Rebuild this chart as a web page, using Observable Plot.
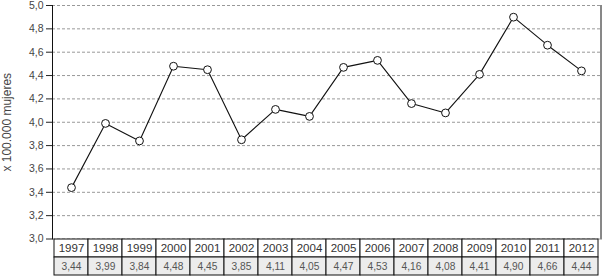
<!DOCTYPE html>
<html><head><meta charset="utf-8">
<script src="https://cdn.jsdelivr.net/npm/d3@7"></script>
<script src="https://cdn.jsdelivr.net/npm/@observablehq/plot@0.6"></script>
<style>
body{margin:0;background:#fff;}
#wrap{position:relative;width:602px;height:276px;overflow:hidden;}
#wrap svg{position:absolute;left:0;background:transparent;overflow:visible;}
</style></head><body><div id="wrap"></div>
<script>
const years = [1997,1998,1999,2000,2001,2002,2003,2004,2005,2006,2007,2008,2009,2010,2011,2012];
const rates = [3.44,3.99,3.84,4.48,4.45,3.85,4.11,4.05,4.47,4.53,4.16,4.08,4.41,4.90,4.66,4.44];
const yTicks = [3.0,3.2,3.4,3.6,3.8,4.0,4.2,4.4,4.6,4.8,5.0];
const yLabel = "x 100.000 mujeres";
const rowKeys = ["year","value"];

const data = years.map((y,i)=>({year:String(y), rate:rates[i]}));
const fmt2 = d => d.toFixed(2).replace(".", ",");
const fmt1 = d => d.toFixed(1).replace(".", ",");
const sans = "'Liberation Sans',Arial,sans-serif";

const main = Plot.plot({
  width:602, height:276,
  marginLeft:52, marginRight:1.5, marginTop:5, marginBottom:37.5,
  style:{background:"transparent", fontFamily:sans, color:"#333"},
  x:{type:"band", domain:data.map(d=>d.year), padding:0, axis:null},
  y:{domain:[3,5], axis:null},
  marks:[
    Plot.gridY(yTicks, {stroke:"#999", strokeOpacity:1, strokeDasharray:"3,2"}),
    Plot.axisY(yTicks, {tickFormat:fmt1, tickSize:6, tickPadding:3, fontSize:10.5, label:null, stroke:"#222", fill:"#444"}),
    Plot.frame({anchor:"left", stroke:"#111"}),
    Plot.frame({anchor:"right", stroke:"#111"}),
    Plot.text([yLabel], {frameAnchor:"left", rotate:-90, dx:-45, textAnchor:"middle", lineAnchor:"middle", fontSize:12, fill:"#444"}),
    Plot.line(data, {x:"year", y:"rate", stroke:"#111", strokeWidth:1.1}),
    Plot.dot(data, {x:"year", y:"rate", r:3.9, fill:"white", stroke:"#111", strokeWidth:1})
  ]
});

const table = Plot.plot({
  width:602, height:38,
  marginLeft:52, marginRight:1.5, marginTop:0.5, marginBottom:1,
  style:{background:"transparent", fontFamily:sans},
  x:{type:"band", domain:data.map(d=>d.year), padding:0, axis:null},
  y:{type:"band", domain:rowKeys, padding:0, axis:null},
  marks:[
    Plot.cell(data, {x:"year", y:()=>rowKeys[0], fill:"white", stroke:"#111"}),
    Plot.cell(data, {x:"year", y:()=>rowKeys[1], fill:"#ececec", stroke:"#111"}),
    Plot.text(data, {x:"year", y:()=>rowKeys[0], text:"year", fontSize:11.5, fill:"#333", letterSpacing:"-0.3px"}),
    Plot.text(data, {x:"year", y:()=>rowKeys[1], text:d=>fmt2(d.rate), fontSize:10.2, fill:"#555", letterSpacing:"-0.3px"})
  ]
});

const wrap = document.getElementById("wrap");
main.style.top = "0px";
table.style.top = "238px";
wrap.append(main, table);
</script></body></html>
